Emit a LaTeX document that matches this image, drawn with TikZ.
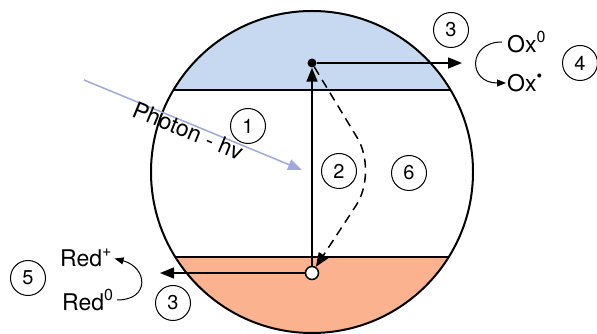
\documentclass[tikz,border=0pt]{standalone}
\usepackage{fontspec}
\setmainfont{TeX Gyre Heros}
\usepackage{xcolor}
\usetikzlibrary{arrows.meta}

\definecolor{cbblue}{RGB}{199,217,240}
\definecolor{vborange}{RGB}{251,178,142}
\definecolor{photon}{RGB}{160,168,220}

\newcommand{\sups}[1]{\raisebox{0.42em}{\fontsize{16}{18}\selectfont #1}}

\tikzset{
  num/.style={circle,draw,line width=1pt,minimum size=35pt,inner sep=0pt,font=\fontsize{20}{22}\selectfont},
  lbl/.style={font=\fontsize{23}{27}\selectfont,inner sep=1pt},
  tip/.style={-{Triangle[length=14pt,width=11pt]}},
  smalltip/.style={-{Triangle[length=9pt,width=7pt]}},
}

\begin{document}
\begin{tikzpicture}[x=1pt,y=1pt]
  \useasboundingbox (0,0) rectangle (597,334);
  % bands
  \begin{scope}
    \clip (312,162) circle (161pt);
    \fill[cbblue]   (140,244) rectangle (480,330);
    \fill[vborange] (140,0) rectangle (480,77);
    \draw[line width=1.5pt] (140,244) -- (480,244);
    \draw[line width=1.5pt] (140,77) -- (480,77);
  \end{scope}
  \node[draw,circle,line width=2pt,minimum size=322pt,inner sep=0pt] (part) at (312,162) {};

  % photon
  \coordinate (ph0) at (84,254);
  \coordinate (ph1) at (302,164);
  \draw[photon,line width=1.5pt,tip] (ph0) -- (ph1)
    node[pos=0.49,sloped,below,lbl,text=black,inner sep=0pt,yshift=2pt] (phtxt) {Photon - hv};

  % electron and hole
  \node[circle,fill=black,minimum size=9pt,inner sep=0pt] (cb) at (312,271) {};
  \node[circle,draw,fill=white,line width=1.5pt,minimum size=13pt,inner sep=0pt] (vb) at (312,61) {};
  \coordinate (cbout) at (462,271);
  \coordinate (vbout) at (160,61);
  \coordinate (kink) at (378,162);
  \draw[line width=1.5pt,tip] (vb) -- (cb);
  \draw[line width=1.5pt,tip] (cb) -- (cbout);
  \draw[line width=1.5pt,tip] (vb) -- (vbout);
  \draw[line width=1.5pt,dash pattern=on 9pt off 6pt,rounded corners=40pt,tip] (cb.-60) -- (kink) -- (vb.58);

  % redox labels
  \node[lbl,anchor=west] (ox0) at (506,292) {Ox\sups{0}};
  \node[lbl,anchor=west] (oxr) at (506,251) {Ox\sups{\textbullet}};
  \node[lbl,anchor=west] (redp) at (59,76) {Red\sups{+}};
  \node[lbl,anchor=west] (red0) at (61,34) {Red\sups{0}};
  \draw[line width=1pt,smalltip,shorten <=4pt] (ox0.west) to[out=180,in=180,looseness=2.4] (oxr.west);
  \draw[line width=1pt,smalltip,shorten <=3pt,shorten >=2pt] (red0.east) to[out=0,in=-15,looseness=2.2] (redp.east);

  % step numbers
  \node[num] (n1) at (248,208) {1};
  \node[num] (n2) at (339,163) {2};
  \node[num] (n6) at (409,161) {6};
  \node[num] (n3a) at (451,304) {3};
  \node[num] (n4) at (580,271) {4};
  \node[num] (n5) at (28,56) {5};
  \node[num] (n3b) at (173,31) {3};
\end{tikzpicture}
\end{document}
